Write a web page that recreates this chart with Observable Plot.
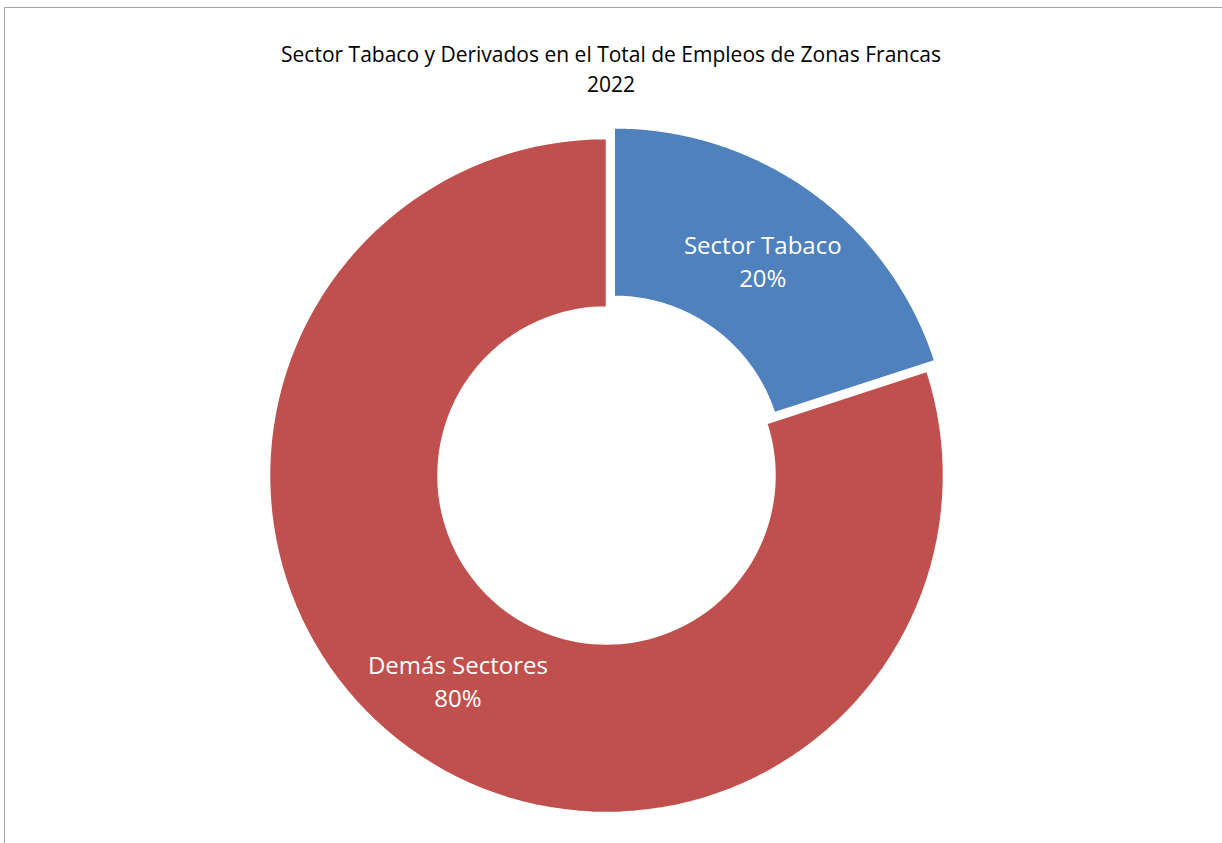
<!DOCTYPE html>
<html>
<head>
<meta charset="utf-8">
<script src="https://cdn.jsdelivr.net/npm/d3@7"></script>
<script src="https://cdn.jsdelivr.net/npm/@observablehq/plot@0.6"></script>
<style>
  html, body { margin: 0; padding: 0; background: #fff; overflow: hidden; }
  #frame { position: absolute; left: 4px; top: 7px; width: 1400px; height: 1000px; border: 1px solid #a6a6a6; box-sizing: border-box; }
  #title { position: absolute; left: 0; width: 1222px; top: 39px; text-align: center; font-family: "Open Sans", sans-serif; font-size: 21px; line-height: 30px; color: #000; }
  #chart { position: absolute; left: 0; top: 0; }
</style>
</head>
<body>
<div id="frame"></div>
<div id="title">Sector Tabaco y Derivados en el Total de Empleos de Zonas Francas<br>2022</div>
<div id="chart"></div>
<script>
const categories = ["Sector Tabaco", "Demás Sectores"];
const values = [20, 80];
const labels = ["Sector Tabaco\n20%", "Demás Sectores\n80%"];
const colors = ["#4F81BD", "#C0504D"];
const explode = [0.039, 0];

const innerRatio = 0.5;
const W = 1222, H = 843, cx = 606, cy = 475, R = 337;

const pie = d3.pie().sort(null).value(d => d.value);
const arcs = pie(categories.map((c, i) => ({category: c, value: values[i], label: labels[i], explode: explode[i]})));

// polygon points of each ring slice, sampled along arcs
const pts = [];
const labelPts = [];
arcs.forEach(a => {
  const mid = (a.startAngle + a.endAngle) / 2;
  const ox = a.data.explode * Math.sin(mid), oy = a.data.explode * Math.cos(mid);
  const n = 120;
  for (let k = 0; k <= n; k++) {
    const t = a.startAngle + (a.endAngle - a.startAngle) * k / n;
    pts.push({category: a.data.category, x: ox + Math.sin(t), y: oy + Math.cos(t)});
  }
  for (let k = n; k >= 0; k--) {
    const t = a.startAngle + (a.endAngle - a.startAngle) * k / n;
    pts.push({category: a.data.category, x: ox + innerRatio * Math.sin(t), y: oy + innerRatio * Math.cos(t)});
  }
  const rm = (1 + innerRatio) / 2;
  labelPts.push({label: a.data.label, x: ox + rm * Math.sin(mid), y: oy + rm * Math.cos(mid)});
});

const chart = Plot.plot({
  width: W,
  height: H,
  margin: 0,
  x: {domain: [-cx / R, (W - cx) / R], range: [0, W], axis: null},
  y: {domain: [(cy - H) / R, cy / R], range: [H, 0], axis: null},
  color: {domain: categories, range: colors},
  style: {background: "transparent"},
  marks: [
    Plot.line(pts, {x: "x", y: "y", z: "category", fill: "category", stroke: "white", strokeWidth: 1.5, curve: "linear-closed"}),
    Plot.text(labelPts, {x: "x", y: "y", text: "label", fill: "white", fontSize: 24, lineHeight: 1.375, fontFamily: "Open Sans, sans-serif"})
  ]
});
document.getElementById("chart").appendChild(chart);
</script>
</body>
</html>
